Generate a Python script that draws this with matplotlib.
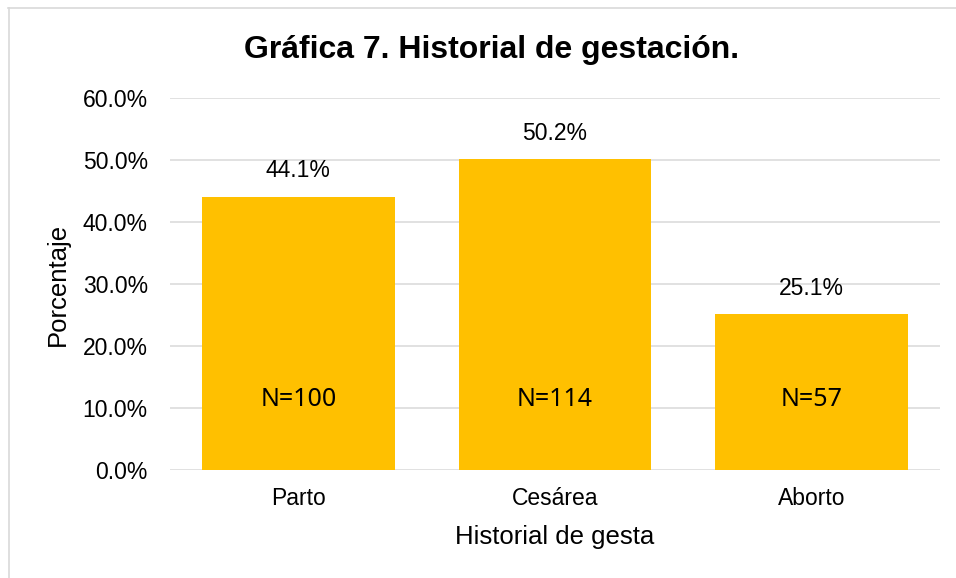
import matplotlib.pyplot as plt
from matplotlib.lines import Line2D

# datos
categorias = ['Parto', 'Cesárea', 'Aborto']
porcentajes = [44.1, 50.2, 25.1]
n_casos = [100, 114, 57]
yticks = [0, 10, 20, 30, 40, 50, 60]

plt.rcParams['font.family'] = ['Liberation Sans', 'DejaVu Sans']

fig = plt.figure(figsize=(9.56, 5.78), dpi=100)
ax = fig.add_axes([170/956, 1 - 470/578, 770/956, 372/578])

x = range(len(categorias))
bars = ax.bar(x, porcentajes, width=0.75, color='#FFC000', zorder=2)

ax.set_xlim(-0.5, 2.5)
ax.set_ylim(0, 60)
ax.set_yticks(yticks)
ax.set_yticklabels([f'{v:.1f}%' for v in yticks])
ax.set_xticks(list(x))
ax.set_xticklabels(categorias)
ax.grid(axis='y', color='#d9d9d9', linewidth=1.1, zorder=0)
ax.set_axisbelow(True)
for s in ax.spines.values():
    s.set_visible(False)
ax.tick_params(axis='both', length=0, labelsize=16.5, colors='black')
ax.tick_params(axis='y', pad=16)
ax.tick_params(axis='x', pad=12)

# etiquetas de valor y N
for b, p, n in zip(bars, porcentajes, n_casos):
    cx = b.get_x() + b.get_width() / 2
    ax.annotate(f'{p:.1f}%', (cx, p), xytext=(0, 18.5), textcoords='offset points',
                ha='center', va='center', fontsize=16.5)
    ax.text(cx, 11.3, f'N={n}', ha='center', va='center', fontsize=18,
            family=['Noto Sans', 'DejaVu Sans'])

ax.set_xlabel('Historial de gesta', fontsize=18.5, labelpad=11)
ax.set_ylabel('Porcentaje', fontsize=18.5, labelpad=9)
fig.text(492/956, 1 - 50/578, 'Gráfica 7. Historial de gestación.', ha='center', va='center',
         fontsize=23, fontweight='bold')

# borde del área del gráfico
fig.add_artist(Line2D([8/956, 1], [1 - 7.5/578, 1 - 7.5/578], color='#d9d9d9', lw=1.2))
fig.add_artist(Line2D([8.5/956, 8.5/956], [0, 1 - 7.5/578], color='#d9d9d9', lw=1.2))

fig.savefig('out.png', dpi=100)
